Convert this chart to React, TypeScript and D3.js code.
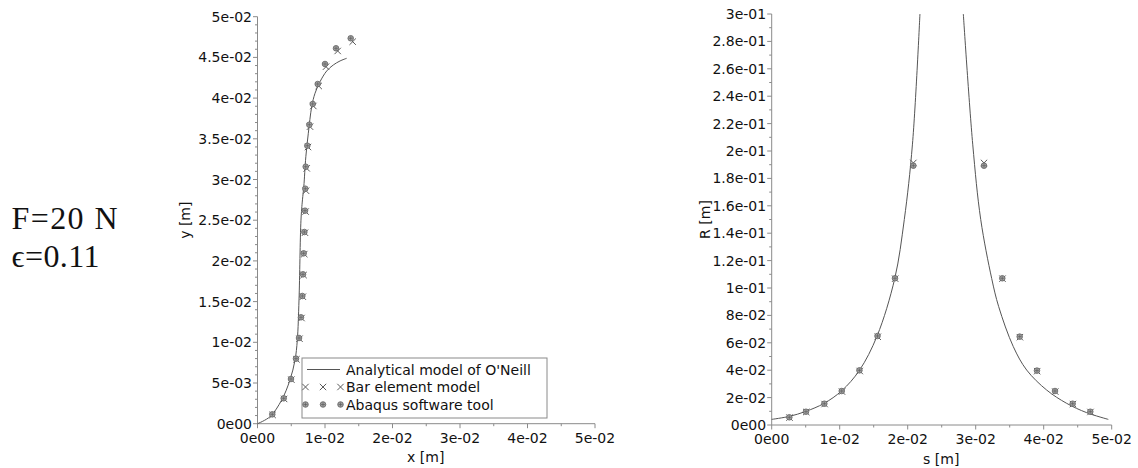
import React from "react";
import * as d3 from "d3";

// ---------- Left plot data: y [m] vs x [m] ----------
const analyticX = [0, 0.00185, 0.00358, 0.00481, 0.00556, 0.0059, 0.00615, 0.00644, 0.00666, 0.00686, 0.00716, 0.00753, 0.00803, 0.00852, 0.00926, 0.01025, 0.01123, 0.01222, 0.01321];
const analyticY = [0, 0.00086, 0.00291, 0.00537, 0.00782, 0.0103, 0.0152, 0.0250, 0.0275, 0.02912, 0.0328, 0.03568, 0.03894, 0.04059, 0.04201, 0.04333, 0.04407, 0.04456, 0.04489];

const abaqusX = [0.00219, 0.00388, 0.00496, 0.0057, 0.00615, 0.00644, 0.00664, 0.00674, 0.00684, 0.00694, 0.00704, 0.00708, 0.00714, 0.00738, 0.00768, 0.00818, 0.00892, 0.0100, 0.01163, 0.01381];
const abaqusY = [0.00115, 0.00312, 0.00549, 0.00799, 0.01053, 0.01307, 0.01569, 0.01835, 0.02093, 0.02355, 0.02617, 0.02887, 0.03157, 0.03415, 0.03673, 0.03928, 0.04173, 0.04419, 0.04612, 0.04735];

const barX = [0.00224, 0.00394, 0.00502, 0.00577, 0.00622, 0.00652, 0.00672, 0.00683, 0.00693, 0.00703, 0.00713, 0.00719, 0.00729, 0.00748, 0.00778, 0.00827, 0.00907, 0.01015, 0.01188, 0.0141];
const barY = [0.00108, 0.00304, 0.00541, 0.00791, 0.01044, 0.01298, 0.0156, 0.01826, 0.02084, 0.02346, 0.02606, 0.02862, 0.03137, 0.03399, 0.03649, 0.03903, 0.04149, 0.04386, 0.04579, 0.04693];

// ---------- Right plot data: R [m] vs s [m] ----------
const leftBranchS = [0, 0.0026, 0.0050, 0.0077, 0.0103, 0.0129, 0.0155, 0.0181, 0.0195, 0.0207, 0.0218];
const leftBranchR = [0.0041, 0.0063, 0.0099, 0.0158, 0.0250, 0.0399, 0.0650, 0.107, 0.150, 0.205, 0.30];
const rightBranchS = [0.02818, 0.02956, 0.03074, 0.03235, 0.03338, 0.03553, 0.0375, 0.04044, 0.04338, 0.04632, 0.0495];
const rightBranchR = [0.30, 0.205, 0.150, 0.107, 0.0864, 0.0572, 0.0401, 0.0255, 0.0158, 0.009, 0.0041];

const abaqusS = [0.00259, 0.00504, 0.00774, 0.0103, 0.0129, 0.01556, 0.01813, 0.02083, 0.03122, 0.03391, 0.03647, 0.03901, 0.04166, 0.04426, 0.04685];
const abaqusR = [0.00562, 0.0097, 0.01555, 0.0248, 0.0399, 0.065, 0.1071, 0.1893, 0.1893, 0.1071, 0.0645, 0.0397, 0.0248, 0.01555, 0.0097];
const barS = [0.00262, 0.00508, 0.00778, 0.01034, 0.01295, 0.0156, 0.01816, 0.02083, 0.03122, 0.03394, 0.0365, 0.03904, 0.0417, 0.0443, 0.04688];
const barR = [0.0054, 0.0095, 0.0153, 0.0244, 0.0394, 0.0644, 0.1068, 0.1913, 0.1913, 0.1068, 0.0641, 0.0393, 0.0244, 0.0153, 0.0095];

const leftXTicks = [0, 0.01, 0.02, 0.03, 0.04, 0.05];
const leftYTicks = [0, 0.005, 0.01, 0.015, 0.02, 0.025, 0.03, 0.035, 0.04, 0.045, 0.05];
const rightXTicks = [0, 0.01, 0.02, 0.03, 0.04, 0.05];
const rightYTicks = [0, 0.02, 0.04, 0.06, 0.08, 0.1, 0.12, 0.14, 0.16, 0.18, 0.2, 0.22, 0.24, 0.26, 0.28, 0.3];

const legendLabels = ["Analytical model of O'Neill", "Bar element model", "Abaqus software tool"];

function fmt(v: number): string {
  if (Math.abs(v) < 1e-12) return "0e00";
  const e = Math.floor(Math.log10(v) + 1e-9);
  let m = v / Math.pow(10, e);
  m = Math.round(m * 10) / 10;
  const ms = Number.isInteger(m) ? String(m) : m.toFixed(1);
  const sign = e < 0 ? "-" : "+";
  const ae = Math.abs(e);
  return `${ms}e${sign}${ae < 10 ? "0" + ae : ae}`;
}

const AXIS = "#8a8a8a";
const LINE = "#555";
const FONT = "DejaVu Sans, sans-serif";

function Cross({ x, y }: { x: number; y: number }) {
  const h = 3.2;
  return (
    <path d={`M${x - h},${y - h}L${x + h},${y + h}M${x - h},${y + h}L${x + h},${y - h}`} stroke="#5a5a5a" strokeWidth={1} fill="none" />
  );
}

function Dot({ x, y }: { x: number; y: number }) {
  return (
    <g>
      <circle cx={x} cy={y} r={2.8} fill="#a0a0a0" stroke="#5f5f5f" strokeWidth={0.8} />
      <path d={`M${x - 2},${y}L${x + 2},${y}M${x},${y - 2}L${x},${y + 2}`} stroke="#555" strokeWidth={0.6} />
    </g>
  );
}

function Axes({ xs, ys, xTicks, yTicks, xMinor, yMinor, xLabel, yLabel, yLabelX }: any) {
  const [x0, x1] = xs.range();
  const [y0, y1] = ys.range();
  return (
    <g>
      <line x1={x0} x2={x1} y1={y0} y2={y0} stroke={AXIS} strokeWidth={1} />
      <line x1={x0} x2={x0} y1={y0} y2={y1} stroke={AXIS} strokeWidth={1} />
      {xMinor.map((t: number, i: number) => (
        <line key={"xm" + i} x1={xs(t)} x2={xs(t)} y1={y0} y2={y0 + 2.5} stroke={AXIS} />
      ))}
      {yMinor.map((t: number, i: number) => (
        <line key={"ym" + i} x1={x0 - 2.5} x2={x0} y1={ys(t)} y2={ys(t)} stroke={AXIS} />
      ))}
      {xTicks.map((t: number, i: number) => (
        <g key={"xt" + i}>
          <line x1={xs(t)} x2={xs(t)} y1={y0} y2={y0 + 4.5} stroke={AXIS} />
          <text x={xs(t)} y={y0 + 19} textAnchor="middle" fontFamily={FONT} fontSize={14} fill="#111">{fmt(t)}</text>
        </g>
      ))}
      {yTicks.map((t: number, i: number) => (
        <g key={"yt" + i}>
          <line x1={x0 - 4.5} x2={x0} y1={ys(t)} y2={ys(t)} stroke={AXIS} />
          <text x={x0 - 5.5} y={ys(t)} dy="0.36em" textAnchor="end" fontFamily={FONT} fontSize={14} fill="#111">{fmt(t)}</text>
        </g>
      ))}
      <text x={(x0 + x1) / 2 - 0.5} y={y0 + 38.5} textAnchor="middle" fontFamily={FONT} fontSize={14} fill="#111">{xLabel}</text>
      <text transform={`translate(${yLabelX},${(y0 + y1) / 2}) rotate(-90)`} textAnchor="middle" fontFamily={FONT} fontSize={14} fill="#111">{yLabel}</text>
    </g>
  );
}

export default function App() {
  const W = 1138, H = 468;
  // left plot
  const lx = d3.scaleLinear().domain([0, 0.05]).range([257.5, 595]);
  const ly = d3.scaleLinear().domain([0, 0.05]).range([423.7, 16.7]);
  // right plot
  const rx = d3.scaleLinear().domain([0, 0.05]).range([771.7, 1111.7]);
  const ry = d3.scaleLinear().domain([0, 0.3]).range([425, 14]);

  const leftMinorX = d3.range(0, 0.0501, 0.005).filter((v) => Math.abs(v / 0.01 - Math.round(v / 0.01)) > 1e-6);
  const leftMinorY = d3.range(0, 0.05001, 0.001).filter((v) => Math.abs(v / 0.005 - Math.round(v / 0.005)) > 1e-6);
  const rightMinorX = d3.range(0, 0.0501, 0.005).filter((v) => Math.abs(v / 0.01 - Math.round(v / 0.01)) > 1e-6);
  const rightMinorY = d3.range(0, 0.3001, 0.01).filter((v) => Math.abs(v / 0.02 - Math.round(v / 0.02)) > 1e-6);

  const leftLine = d3
    .line<number>()
    .x((_, i) => lx(analyticX[i]))
    .y((d) => ly(d))
    .curve(d3.curveCatmullRom.alpha(0.5))(analyticY) as string;

  const rLineL = d3
    .line<number>()
    .x((d) => rx(d))
    .y((_, i) => ry(leftBranchR[i]))
    .curve(d3.curveCatmullRom.alpha(0.5))(leftBranchS) as string;
  const rLineR = d3
    .line<number>()
    .x((d) => rx(d))
    .y((_, i) => ry(rightBranchR[i]))
    .curve(d3.curveCatmullRom.alpha(0.5))(rightBranchS) as string;

  const legX = 302, legY = 358;
  const rows = [369.5, 387, 404.5];

  return (
    <div style={{ position: "absolute", left: 0, top: 0 }}>
      <svg width={W} height={H} style={{ display: "block", background: "#fff" }}>
        {/* Annotation */}
        <text x={11.5} y={229} fontFamily="Liberation Serif, DejaVu Serif, serif" fontSize={32} fill="#111" textLength={106} lengthAdjust="spacing">F=20 N</text>
        <text x={11.5} y={267} fontFamily="Liberation Serif, DejaVu Serif, serif" fontSize={32} fill="#111" textLength={88} lengthAdjust="spacing">ϵ=0.11</text>

        {/* Left plot */}
        <Axes xs={lx} ys={ly} xTicks={leftXTicks} yTicks={leftYTicks} xMinor={leftMinorX} yMinor={leftMinorY} xLabel="x [m]" yLabel="y [m]" yLabelX={190} />
        <path d={leftLine} fill="none" stroke={LINE} strokeWidth={1} />
        {barX.map((v, i) => <Cross key={"lb" + i} x={lx(v)} y={ly(barY[i])} />)}
        {abaqusX.map((v, i) => <Dot key={"la" + i} x={lx(v)} y={ly(abaqusY[i])} />)}

        {/* Legend */}
        <rect x={legX} y={legY} width={245} height={60} fill="#fff" stroke={AXIS} strokeWidth={1} />
        <line x1={307} x2={340} y1={rows[0]} y2={rows[0]} stroke={LINE} strokeWidth={1} />
        {[305.5, 323, 340.5].map((x, i) => <Cross key={"lc" + i} x={x} y={rows[1]} />)}
        {[305.5, 323, 340.5].map((x, i) => <Dot key={"ld" + i} x={x} y={rows[2]} />)}
        {legendLabels.map((l, i) => (
          <text key={"lt" + i} x={346} y={rows[i]} dy="0.36em" fontFamily={FONT} fontSize={14} fill="#111">{l}</text>
        ))}

        {/* Right plot */}
        <Axes xs={rx} ys={ry} xTicks={rightXTicks} yTicks={rightYTicks} xMinor={rightMinorX} yMinor={rightMinorY} xLabel="s [m]" yLabel="R [m]" yLabelX={710} />
        <path d={rLineL} fill="none" stroke={LINE} strokeWidth={1} />
        <path d={rLineR} fill="none" stroke={LINE} strokeWidth={1} />
        {barS.map((v, i) => <Cross key={"rb" + i} x={rx(v)} y={ry(barR[i])} />)}
        {abaqusS.map((v, i) => <Dot key={"ra" + i} x={rx(v)} y={ry(abaqusR[i])} />)}
      </svg>
    </div>
  );
}
